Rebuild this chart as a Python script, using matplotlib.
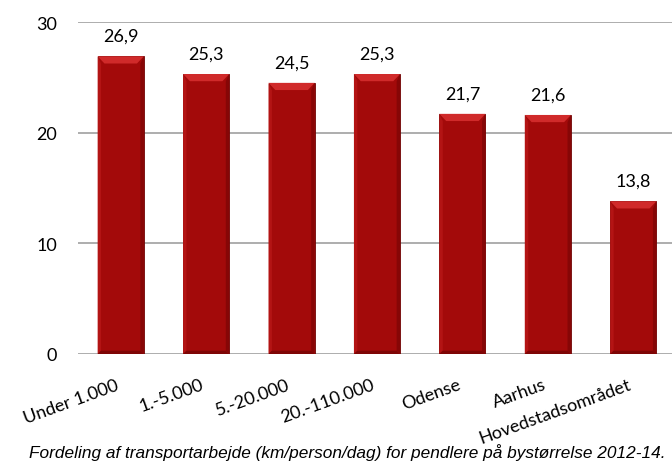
import matplotlib.pyplot as plt
from matplotlib.patches import Polygon

# Transportarbejde (km/person/dag) efter bystørrelse
categories = ['Under 1.000', '1.-5.000', '5.-20.000', '20.-110.000',
              'Odense', 'Aarhus', 'Hovedstadsområdet']
values = [26.9, 25.3, 24.5, 25.3, 21.7, 21.6, 13.8]
value_labels = ['26,9', '25,3', '24,5', '25,3', '21,7', '21,6', '13,8']
yticks = [0, 10, 20, 30]

caption = ('Fordeling af transportarbejde (km/person/dag) for pendlere '
           'på bystørrelse 2012-14.')

plt.rcParams['font.family'] = ['Lato', 'DejaVu Sans']

fig = plt.figure(figsize=(6.72, 4.77), dpi=100)
ax = fig.add_axes([78 / 672, 1 - 355 / 477, 598 / 672, 332 / 477])

x = list(range(len(categories)))
bars = ax.bar(x, values, width=0.54, color='#A30A0A',
              edgecolor='#6E0505', linewidth=0.6, zorder=3)

# kant-effekt (bevel) på hver søjle
bx, by = 0.08, 0.65
for b in bars:
    x0, w, h = b.get_x(), b.get_width(), b.get_height()
    x1 = x0 + w
    top = Polygon([(x0, h), (x1, h), (x1 - bx, h - by), (x0 + bx, h - by)],
                  closed=True, facecolor='#D02A2A', edgecolor='none', zorder=4)
    left = Polygon([(x0, 0), (x0, h), (x0 + bx * 0.5, h - by), (x0 + bx * 0.5, 0.3)],
                   closed=True, facecolor='#B31414', edgecolor='none', zorder=4)
    right = Polygon([(x1, 0), (x1, h), (x1 - bx * 0.5, h - by), (x1 - bx * 0.5, 0.3)],
                    closed=True, facecolor='#860606', edgecolor='none', zorder=4)
    bottom = Polygon([(x0, 0), (x1, 0), (x1 - bx * 0.5, 0.3), (x0 + bx * 0.5, 0.3)],
                     closed=True, facecolor='#7E0505', edgecolor='none', zorder=4)
    for p in (top, left, right, bottom):
        ax.add_patch(p)

for xi, v, lab in zip(x, values, value_labels):
    ax.annotate(lab, (xi, v), xytext=(0, 11), textcoords='offset points',
                ha='center', va='baseline', fontsize=13, color='black')

ax.set_xlim(-0.5, 6.5)
ax.set_ylim(0, 30)
ax.set_yticks(yticks)
ax.set_yticklabels([str(t) for t in yticks], fontsize=13)
ax.set_xticks(x)
ax.set_xticklabels(categories, rotation=20, ha='right', va='top', fontsize=13)
ax.tick_params(axis='both', length=0)
ax.tick_params(axis='y', pad=15)
ax.tick_params(axis='x', pad=16)

ax.grid(axis='y', color='#A0A0A0', linewidth=1.2, zorder=0)
ax.set_axisbelow(True)
for s in ax.spines.values():
    s.set_visible(False)

fig.text(0.516, 1 - 453 / 477, caption, ha='center', va='center',
         fontsize=12.4, style='italic', family='Liberation Sans')

fig.savefig('out.png', dpi=100)
